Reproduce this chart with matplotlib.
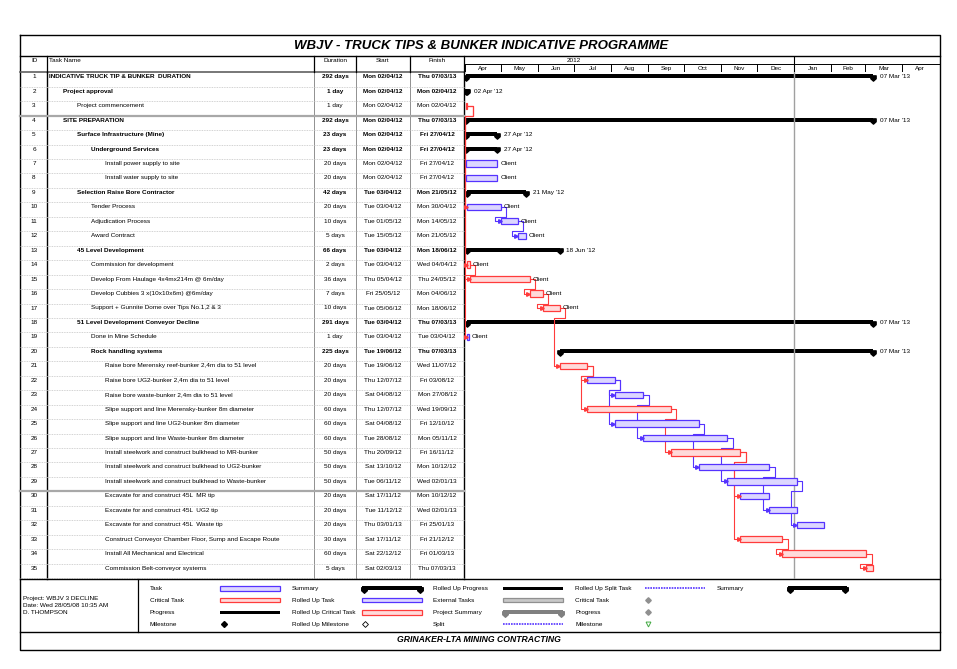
import matplotlib
matplotlib.use('Agg')
import matplotlib.pyplot as plt
import matplotlib.dates as mdates
from matplotlib.path import Path
from datetime import datetime, timedelta

plt.rcParams['font.family'] = ['Liberation Sans', 'DejaVu Sans']

# ---- task table data ----
names = [
    "INDICATIVE TRUCK TIP & BUNKER  DURATION",
    "Project approval",
    "Project commencement",
    "SITE PREPARATION",
    "Surface Infrastructure (Mine)",
    "Underground Services",
    "Install power supply to site",
    "Install water supply to site",
    "Selection Raise Bore Contractor",
    "Tender Process",
    "Adjudication Process",
    "Award Contract",
    "45 Level Development",
    "Commission for development",
    "Develop From Haulage 4x4mx214m @ 6m/day",
    "Develop Cubbies 3 x(10x10x6m) @6m/day",
    "Support + Gunnite Dome over Tips No.1,2 & 3",
    "51 Level Development Conveyor Decline",
    "Done in Mine Schedule",
    "Rock handling systems",
    "Raise bore Merensky reef-bunker 2,4m dia to 51 level",
    "Raise bore UG2-bunker 2,4m dia to 51 level",
    "Raise bore waste-bunker 2,4m dia to 51 level",
    "Slipe support and line Merensky-bunker 8m diameter",
    "Slipe support and line UG2-bunker 8m diameter",
    "Slipe support and line Waste-bunker 8m diameter",
    "Install steelwork and construct bulkhead to MR-bunker",
    "Install steelwork and construct bulkhead to UG2-bunker",
    "Install steelwork and construct bulkhead to Waste-bunker",
    "Excavate for and construct 45L  MR tip",
    "Excavate for and construct 45L  UG2 tip",
    "Excavate for and construct 45L  Waste tip",
    "Construct Conveyor Chamber Floor, Sump and Escape Route",
    "Install All Mechanical and Electrical",
    "Commission Belt-conveyor systems",
]
levels = [0, 1, 2, 1, 2, 3, 4, 4, 2, 3, 3, 3, 2, 3, 3, 3, 3, 2, 3, 3,
          4, 4, 4, 4, 4, 4, 4, 4, 4, 4, 4, 4, 4, 4, 4]
kinds = ['sum', 'sum', 'crit', 'sum', 'sum', 'sum', 'task', 'task', 'sum', 'task',
         'task', 'task', 'sum', 'crit', 'crit', 'crit', 'crit', 'sum', 'task', 'sum',
         'crit', 'task', 'task', 'crit', 'task', 'task', 'crit', 'task', 'task', 'task',
         'task', 'task', 'crit', 'crit', 'crit']
durations = ["292 days", "1 day", "1 day", "292 days", "23 days", "23 days", "20 days",
             "20 days", "42 days", "20 days", "10 days", "5 days", "66 days", "2 days",
             "36 days", "7 days", "10 days", "291 days", "1 day", "225 days", "20 days",
             "20 days", "20 days", "60 days", "60 days", "60 days", "50 days", "50 days",
             "50 days", "20 days", "20 days", "20 days", "30 days", "60 days", "5 days"]
starts = ["Mon 02/04/12", "Mon 02/04/12", "Mon 02/04/12", "Mon 02/04/12", "Mon 02/04/12",
          "Mon 02/04/12", "Mon 02/04/12", "Mon 02/04/12", "Tue 03/04/12", "Tue 03/04/12",
          "Tue 01/05/12", "Tue 15/05/12", "Tue 03/04/12", "Tue 03/04/12", "Thu 05/04/12",
          "Fri 25/05/12", "Tue 05/06/12", "Tue 03/04/12", "Tue 03/04/12", "Tue 19/06/12",
          "Tue 19/06/12", "Thu 12/07/12", "Sat 04/08/12", "Thu 12/07/12", "Sat 04/08/12",
          "Tue 28/08/12", "Thu 20/09/12", "Sat 13/10/12", "Tue 06/11/12", "Sat 17/11/12",
          "Tue 11/12/12", "Thu 03/01/13", "Sat 17/11/12", "Sat 22/12/12", "Sat 02/03/13"]
finishes = ["Thu 07/03/13", "Mon 02/04/12", "Mon 02/04/12", "Thu 07/03/13", "Fri 27/04/12",
            "Fri 27/04/12", "Fri 27/04/12", "Fri 27/04/12", "Mon 21/05/12", "Mon 30/04/12",
            "Mon 14/05/12", "Mon 21/05/12", "Mon 18/06/12", "Wed 04/04/12", "Thu 24/05/12",
            "Mon 04/06/12", "Mon 18/06/12", "Thu 07/03/13", "Tue 03/04/12", "Thu 07/03/13",
            "Wed 11/07/12", "Fri 03/08/12", "Mon 27/08/12", "Wed 19/09/12", "Fri 12/10/12",
            "Mon 05/11/12", "Fri 16/11/12", "Mon 10/12/12", "Wed 02/01/13", "Mon 10/12/12",
            "Wed 02/01/13", "Fri 25/01/13", "Fri 21/12/12", "Fri 01/03/13", "Thu 07/03/13"]
client_rows = [7, 8, 10, 11, 12, 14, 15, 16, 17, 19]
links = [(3, 10), (3, 14), (3, 19), (10, 11), (11, 12), (14, 15), (15, 16), (16, 17),
         (17, 21), (21, 22), (21, 24), (22, 23), (22, 25), (23, 26), (24, 27), (25, 28),
         (26, 29), (27, 30), (27, 33), (28, 31), (29, 32), (33, 34), (34, 35)]
months = ["Apr", "May", "Jun", "Jul", "Aug", "Sep", "Oct", "Nov", "Dec",
          "Jan", "Feb", "Mar", "Apr"]

FS = 4.6
BLUE_E, BLUE_F = '#5533ff', '#dcd6ff'
RED_E, RED_F = '#ff3b3b', '#ffdada'


def parse(s):
    return datetime.strptime(s[4:], '%d/%m/%y')


start_num = [mdates.date2num(parse(s)) for s in starts]
end_num = [mdates.date2num(parse(s) + timedelta(days=1)) for s in finishes]

fig = plt.figure(figsize=(9.57, 6.69), dpi=100)

# frame axes in pixel units for table / borders
ax = fig.add_axes([0, 0, 1, 1])
ax.set_xlim(0, 957)
ax.set_ylim(669, 0)
ax.axis('off')

L, R, T, B = 20, 940, 35, 650
ax.plot([L, R, R, L, L], [T, T, B, B, T], color='black', lw=1.0)
ax.text(481, 46, "WBJV - TRUCK TIPS & BUNKER INDICATIVE PROGRAMME", ha='center',
        va='center', fontsize=9.5, fontweight='bold', fontstyle='italic')
ax.plot([L, R], [56, 56], color='black', lw=1.0)
ax.plot([L, 464], [72.3, 72.3], color='#606060', lw=1.2)

row0, rowh = 76.8, 14.45
col_x = [47, 314, 356, 410, 464]
for i, cx in enumerate(col_x):
    c = 'black' if i in (0, 4) else '#909090'
    ax.plot([cx, cx], [72.3, 579], color=c, lw=1.0 if i in (0, 4) else 0.7)
    ax.plot([cx, cx], [56, 72.3], color='black', lw=0.9)

hy = 61
ax.text(34, hy, "ID", ha='center', va='center', fontsize=FS)
ax.text(49, hy, "Task Name", ha='left', va='center', fontsize=FS)
ax.text(335, hy, "Duration", ha='center', va='center', fontsize=FS)
ax.text(383, hy, "Start", ha='center', va='center', fontsize=FS)
ax.text(437, hy, "Finish", ha='center', va='center', fontsize=FS)

for i, name in enumerate(names):
    y = row0 + i * rowh
    bold = 'bold' if kinds[i] == 'sum' else 'normal'
    ax.text(34, y, str(i + 1), ha='center', va='center', fontsize=FS)
    ax.text(49 + 14 * levels[i], y, name, ha='left', va='center', fontsize=FS,
            fontweight=bold)
    ax.text(335, y, durations[i], ha='center', va='center', fontsize=FS, fontweight=bold)
    ax.text(383, y, starts[i], ha='center', va='center', fontsize=FS, fontweight=bold)
    ax.text(437, y, finishes[i], ha='center', va='center', fontsize=FS, fontweight=bold)
    yb = y + 9.95
    heavy = (i + 1) in (3, 29)
    ax.plot([L, 464], [yb, yb], color='#a8a8a8' if heavy else '#c4c4c4',
            lw=1.6 if heavy else 0.6, ls='-' if heavy else (0, (1, 1)))

ax.plot([L, R], [579, 579], color='black', lw=1.0)
ax.plot([L, R], [632, 632], color='black', lw=1.0)
ax.plot([138, 138], [579, 632], color='black', lw=0.9)

# project info
ax.text(23, 598.5, "Project: WBJV 3 DECLINE", fontsize=FS, va='center')
ax.text(23, 605.5, "Date: Wed 28/05/08 10:35 AM", fontsize=FS, va='center')
ax.text(23, 612.5, "D. THOMPSON", fontsize=FS, va='center')
ax.text(479, 640, "GRINAKER-LTA MINING CONTRACTING", ha='center', va='center',
        fontsize=6.2, fontweight='bold', fontstyle='italic')

pent = Path([(-1, 1), (1, 1), (1, -0.1), (0, -1), (-1, -0.1), (-1, 1)],
            [Path.MOVETO] + [Path.LINETO] * 4 + [Path.CLOSEPOLY])


def leg_bar(x0, x1, y, fc, ec, h=4.5):
    ax.add_patch(plt.Rectangle((x0, y - h / 2), x1 - x0, h, facecolor=fc,
                               edgecolor=ec, lw=0.9))


def leg_summary(x0, x1, y, c):
    ax.add_patch(plt.Rectangle((x0, y - 2), x1 - x0, 3.5, facecolor=c, edgecolor=c, lw=0))
    ax.plot([x0 + 2, x1 - 2], [y + 1.5, y + 1.5], ls='none', marker=pent, ms=4,
            color=c)


ly = [588.3, 600.2, 612.3, 624.3]
leg_labels = [
    (150, ["Task", "Critical Task", "Progress", "Milestone"]),
    (292, ["Summary", "Rolled Up Task", "Rolled Up Critical Task", "Rolled Up Milestone"]),
    (433, ["Rolled Up Progress", "External Tasks", "Project Summary", "Split"]),
    (575, ["Rolled Up Split Task", "Critical Task", "Progress", "Milestone"]),
    (717, ["Summary"]),
]
for lx, labs in leg_labels:
    for k, lab in enumerate(labs):
        ax.text(lx, ly[k], lab, fontsize=FS, va='center')

leg_bar(220, 280, ly[0], BLUE_F, BLUE_E)
leg_bar(220, 280, ly[1], RED_F, RED_E)
ax.add_patch(plt.Rectangle((220, ly[2] - 1.5), 60, 3, color='black', lw=0))
ax.plot(224, ly[3], marker='D', ms=3, color='black')
leg_summary(362, 422, ly[0], 'black')
leg_bar(362, 422, ly[1], BLUE_F, BLUE_E)
leg_bar(362, 422, ly[2], RED_F, RED_E)
ax.plot(365, ly[3], marker='D', ms=3, mfc='white', mec='black', mew=0.6)
ax.add_patch(plt.Rectangle((503, ly[0] - 1.5), 60, 3, color='black', lw=0))
leg_bar(503, 563, ly[1], '#c8c8c8', '#909090')
leg_summary(503, 563, ly[2], '#808080')
ax.plot([503, 563], [ly[3], ly[3]], color=BLUE_E, lw=1.2, ls=(0, (1, 0.6)))
ax.plot([645, 705], [ly[0], ly[0]], color=BLUE_E, lw=1.2, ls=(0, (1, 0.6)))
ax.plot(648, ly[1], marker='D', ms=2.8, color='#909090')
ax.plot(648, ly[2], marker='D', ms=2.8, color='#909090')
ax.plot(648, ly[3], marker='v', ms=3.5, mfc='white', mec='#44aa44', mew=0.7)
leg_summary(788, 847, ly[0], 'black')

# ---- gantt axes ----
px_day = 1.1975
xlo = mdates.date2num(datetime(2012, 4, 1)) - 1 / px_day
xhi = mdates.date2num(datetime(2013, 1, 1)) + (940 - 794.3) / px_day
ylo, yhi = 35.72, 0.689
gx = fig.add_axes([464 / 957, 1 - 578.5 / 669, 476 / 957, 506.2 / 669])
gx.set_xlim(xlo, xhi)
gx.set_ylim(ylo, yhi)
gx.axis('off')
dx = 1 / px_day
dy = 1 / rowh

jan13 = mdates.date2num(datetime(2013, 1, 1))
gx.axvline(jan13, color='#a0a0a0', lw=1.0)

for i in range(len(names)):
    r = i + 1
    x0, x1 = start_num[i], end_num[i]
    if kinds[i] == 'sum':
        gx.barh(r - 0.5 * dy, x1 - x0, left=x0, height=4 * dy, color='black', lw=0)
        gx.plot([x0, x1], [r + 1.2 * dy, r + 1.2 * dy], ls='none', marker=pent,
                ms=3.8, color='black')
        lab = parse(finishes[i]).strftime("%d %b '%y")
        gx.text(x1 + 6.5 * dx, r, lab, fontsize=FS, va='center', ha='left')
    else:
        fc, ec = (RED_F, RED_E) if kinds[i] == 'crit' else (BLUE_F, BLUE_E)
        gx.barh(r, x1 - x0, left=x0, height=6.3 * dy, facecolor=fc, edgecolor=ec,
                lw=0.9, zorder=3)
        if r in client_rows:
            gx.text(x1 + 3 * dx, r, "Client", fontsize=FS, va='center', ha='left',
                    zorder=4)

for p, s in links:
    i, j = p - 1, s - 1
    col = RED_E if kinds[i] == 'crit' else BLUE_E
    xe, xs = end_num[i], start_num[j]
    xa = xe + 5.5 * dx
    ya = p + 10 * dy
    xb = max(xs - 6 * dx, xlo + 0.6 * dx)
    gx.plot([xe, xa, xa, xb, xb, xs - 1.5 * dx], [p, p, ya, ya, s, s], color=col,
            lw=0.8, zorder=2)
    gx.plot(xs - 1.2 * dx, s, marker='>', ms=2.6, color=col, zorder=5)

# ---- timescale header ----
hx = fig.add_axes([464 / 957, 1 - 72.3 / 669, 476 / 957, 16.3 / 669], sharex=gx)
hx.set_ylim(1, 0)
hx.axis('off')
mstarts = [datetime(2012 + (3 + k) // 12, (3 + k) % 12 + 1, 1) for k in range(len(months) + 1)]
for k, m in enumerate(months):
    a = mdates.date2num(mstarts[k])
    b = mdates.date2num(mstarts[k + 1])
    hx.plot([a, a], [0.52, 1], color='black', lw=0.7)
    hx.text((a + min(b, xhi)) / 2, 0.78, m, fontsize=FS, ha='center', va='center')
hx.plot([jan13, jan13], [0, 1], color='black', lw=0.8)
hx.axhline(0.52, color='black', lw=0.7)
hx.text(mdates.date2num(datetime(2012, 7, 1)), 0.3, "2012", fontsize=FS,
        ha='center', va='center')

fig.savefig('out.png', dpi=100)
